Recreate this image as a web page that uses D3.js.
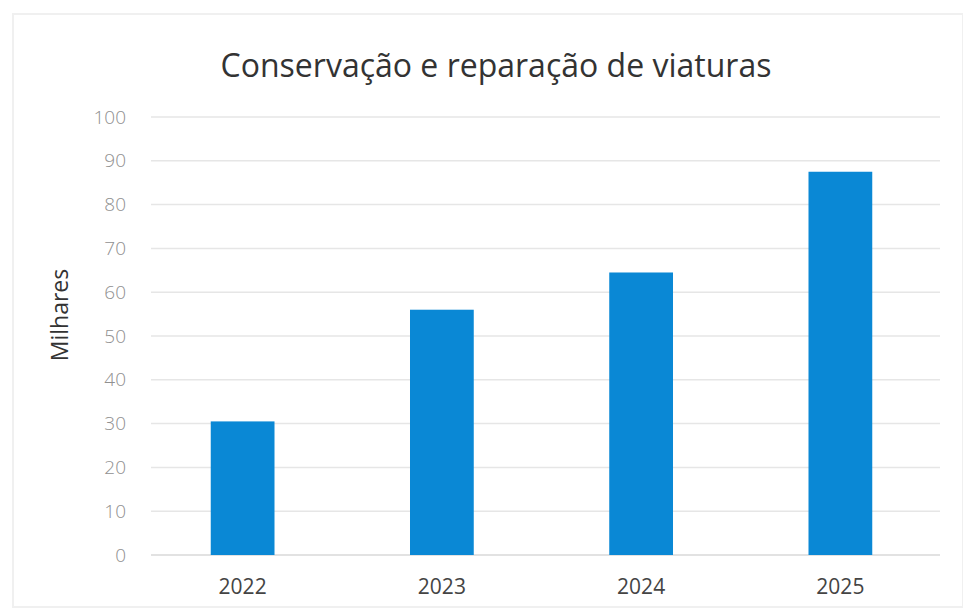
<!DOCTYPE html>
<html>
<head>
<meta charset="utf-8">
<script src="https://cdn.jsdelivr.net/npm/d3@7"></script>
<style>
  html, body { margin: 0; padding: 0; background: #fff; }
  svg { display: block; }
</style>
</head>
<body>
<svg id="chart" width="963" height="616"></svg>
<script>
const title = "Conservação e reparação de viaturas";
const yAxisTitle = "Milhares";
const categories = ["2022", "2023", "2024", "2025"];
const values = [30.5, 56, 64.5, 87.5];
const yTicks = [0, 10, 20, 30, 40, 50, 60, 70, 80, 90, 100];

const svg = d3.select("#chart");
const W = 963, H = 616;
const font = "'Open Sans', 'Noto Sans', sans-serif";

// faint scan border
svg.append("rect").attr("x", 13).attr("y", 14).attr("width", W - 13).attr("height", 593)
  .attr("fill", "none").attr("stroke", "#f0f0f0").attr("stroke-width", 2);

const plot = { left: 143, right: 940, top: 117, bottom: 555 };

const x = d3.scaleBand().domain(categories).range([plot.left, plot.right]).paddingInner(0.68).paddingOuter(0.34);
const y = d3.scaleLinear().domain([0, 100]).range([plot.bottom, plot.top]);

// gridlines
svg.append("g").selectAll("line").data(yTicks).join("line")
  .attr("x1", plot.left + 8).attr("x2", plot.right)
  .attr("y1", d => y(d)).attr("y2", d => y(d))
  .attr("stroke", d => d === 0 ? "#d9d9d9" : "#e6e6e6").attr("stroke-width", 1.5);

// y axis labels
const yAxis = d3.axisLeft(y).tickValues(yTicks).tickSize(0).tickPadding(0);
const gy = svg.append("g").attr("transform", `translate(126,0)`).call(yAxis);
gy.select(".domain").remove();
gy.selectAll("text").attr("font-family", font).attr("font-size", 19).attr("font-weight", 300).attr("fill", "#909090");

// bars
svg.append("g").selectAll("rect").data(values).join("rect")
  .attr("x", (d, i) => x(categories[i]))
  .attr("width", x.bandwidth())
  .attr("y", d => y(d))
  .attr("height", d => y(0) - y(d))
  .attr("fill", "#0a88d5");

// x axis labels
const xAxis = d3.axisBottom(x).tickSize(0).tickPadding(0);
const gx = svg.append("g").attr("transform", `translate(0,${plot.bottom + 24})`).call(xAxis);
gx.select(".domain").remove();
gx.selectAll("text").attr("font-family", font).attr("font-size", 21).attr("fill", "#444").attr("dy", "0.71em");

// title
svg.append("text").attr("x", 496).attr("y", 77).attr("text-anchor", "middle")
  .attr("font-family", font).attr("font-size", 32).attr("fill", "#333").text(title);

// y axis title
svg.append("text").attr("transform", "translate(68,315) rotate(-90)").attr("text-anchor", "middle")
  .attr("font-family", font).attr("font-size", 23).attr("fill", "#333").text(yAxisTitle);
</script>
</body>
</html>
